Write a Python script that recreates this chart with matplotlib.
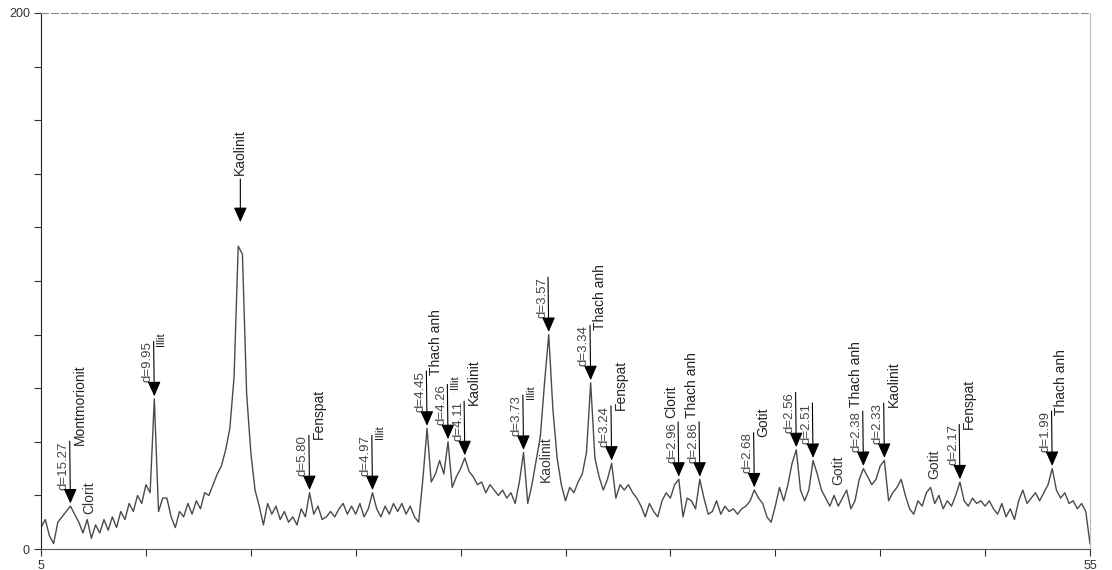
import numpy as np
import matplotlib
matplotlib.use("Agg")
import matplotlib.pyplot as plt

plt.rcParams['font.family'] = ['Liberation Sans', 'DejaVu Sans']

# Step scan, 2theta 5..55 with 0.2 deg step (intensities)
counts = [
    8, 11, 5, 2, 10,        # 5
    12, 14, 16, 13, 10,     # 6
    6, 11, 4, 9, 6,         # 7
    11, 7, 12, 8, 14,       # 8
    11, 17, 14, 20, 17,     # 9
    24, 21, 56, 14, 19,     # 10
    19, 12, 8, 14, 12,      # 11
    17, 13, 18, 15, 21,     # 12
    20, 24, 28, 31, 37,     # 13
    45, 64, 113, 110, 58,   # 14
    36, 22, 16, 9, 17,      # 15
    13, 16, 11, 14, 10,     # 16
    12, 9, 15, 12, 21,      # 17
    13, 16, 11, 12, 14,     # 18
    12, 15, 17, 13, 16,     # 19
    13, 17, 12, 15, 21,     # 20
    15, 12, 16, 13, 17,     # 21
    14, 17, 13, 16, 12,     # 22
    10, 26, 45, 25, 28,     # 23
    33, 28, 40, 23, 27,     # 24
    30, 34, 29, 27, 24,     # 25
    25, 21, 24, 22, 20,     # 26
    22, 19, 21, 17, 25,     # 27
    36, 17, 24, 33, 42,     # 28
    62, 80, 52, 34, 24,     # 29
    18, 23, 21, 25, 28,     # 30
    36, 62, 34, 27, 22,     # 31
    26, 32, 19, 24, 22,     # 32
    24, 21, 19, 16, 12,     # 33
    17, 14, 12, 18, 21,     # 34
    19, 24, 26, 12, 19,     # 35
    18, 15, 26, 19, 13,     # 36
    14, 18, 13, 16, 14,     # 37
    15, 13, 15, 16, 18,     # 38
    22, 19, 17, 12, 10,     # 39
    16, 23, 18, 24, 32,     # 40
    37, 22, 18, 22, 33,     # 41
    28, 22, 19, 16, 20,     # 42
    16, 19, 22, 15, 18,     # 43
    26, 30, 27, 24, 26,     # 44
    31, 33, 18, 21, 23,     # 45
    26, 20, 15, 13, 18,     # 46
    16, 21, 23, 17, 20,     # 47
    15, 18, 16, 20, 25,     # 48
    18, 16, 19, 17, 18,     # 49
    16, 18, 15, 13, 17,     # 50
    12, 15, 11, 18, 22,     # 51
    17, 19, 21, 18, 21,     # 52
    24, 30, 22, 19, 21,     # 53
    17, 18, 15, 17, 14,     # 54
    2,                      # 55
]
two_theta = np.linspace(5, 55, len(counts))

# peak marks: 2theta, d-spacing label, mineral, mineral written in line with d
peak_pos = [6.4, 10.4, 17.8, 20.8, 23.4, 24.4, 25.2, 28.0, 29.2, 31.2,
            32.2, 35.4, 36.4, 39.0, 41.0, 41.8, 44.2, 45.2, 48.8, 53.2]
peak_d = ["d=15.27", "d=9.95", "d=5.80", "d=4.97", "d=4.45", "d=4.26", "d=4.11",
          "d=3.73", "d=3.57", "d=3.34", "d=3.24", "d=2.96", "d=2.86", "d=2.68",
          "d=2.56", "d=2.51", "d=2.38", "d=2.33", "d=2.17", "d=1.99"]
peak_min = ["Montmorionit", "Illit", "Fenspat", "Illit", "Thach anh", "Illit",
            "Kaolinit", "Illit", "", "Thach anh", "Fenspat", "Clorit",
            "Thach anh", "Gotit", "", "", "Thach anh", "Kaolinit", "Fenspat",
            "Thach anh"]
peak_inline = [False, False, False, False, False, False, False, False, False, False,
               False, True, True, False, False, False, True, False, False, False]

# loose labels without arrows
free_text = ["Clorit", "Kaolinit", "Gotit", "Gotit"]
free_x = [7.3, 29.05, 43.0, 47.6]
free_y = [13, 25, 24, 26]

fig = plt.figure(figsize=(11.12, 5.70), dpi=100)
ax = fig.add_axes([0.0369, 0.0368, 0.9433, 0.9404])

ax.plot(two_theta, counts, color='#4a4a4a', lw=1.0)

arrow = dict(arrowstyle='-|>,head_length=0.9,head_width=0.4', color='k',
             lw=0.8, shrinkA=0, shrinkB=0)

for x, d, m, inl in zip(peak_pos, peak_d, peak_min, peak_inline):
    y = np.interp(x, two_theta, counts) + 1
    dt = ax.annotate(d, xy=(x, y), xytext=(-0.5, 10), textcoords='offset points',
                     rotation=90, ha='right', va='bottom', fontsize=9.5, color='#444444')
    ax.annotate('', xy=(x, y), xytext=(1, 1), textcoords=dt, arrowprops=arrow)
    if not m:
        continue
    fs = 8 if m == "Illit" else 10
    if inl:
        ax.annotate(m, xy=(1, 1), xycoords=dt, xytext=(0, 3),
                    textcoords='offset points', rotation=90, ha='right',
                    va='bottom', fontsize=fs, color='#222222')
    else:
        ax.annotate(m, xy=(1, 1), xycoords=dt, xytext=(2, -3),
                    textcoords='offset points', rotation=90, ha='left',
                    va='bottom', fontsize=fs, color='#222222')

# main kaolinite reflection
ax.annotate('Kaolinit', xy=(14.5, 122), xytext=(0, 34), textcoords='offset points',
            rotation=90, ha='center', va='bottom', fontsize=10, color='#222222',
            arrowprops=dict(arrowstyle='-|>,head_length=0.9,head_width=0.4',
                            color='k', lw=0.8, shrinkA=1, shrinkB=0))

for t, x, y in zip(free_text, free_x, free_y):
    ax.text(x, y, t, rotation=90, ha='center', va='bottom', fontsize=10, color='#333333')

ax.set_xlim(5, 55)
ax.set_ylim(0, 200)
ax.set_xticks(np.arange(5, 56, 5))
ax.set_xticklabels(['5'] + [''] * 9 + ['55'])
ax.set_yticks(np.arange(0, 201, 20))
ax.set_yticklabels(['0'] + [''] * 9 + ['200'])
ax.tick_params(axis='both', direction='out', length=5, width=0.8, labelsize=9,
               colors='#333333', pad=3)

ax.spines['left'].set_color('#222222')
ax.spines['bottom'].set_color('#555555')
ax.spines['right'].set_color('#bbbbbb')
ax.spines['right'].set_linewidth(0.8)
ax.spines['top'].set_color('#888888')
ax.spines['top'].set_linestyle((0, (6, 3)))
ax.spines['top'].set_linewidth(0.8)

fig.savefig('out.png', dpi=100)
